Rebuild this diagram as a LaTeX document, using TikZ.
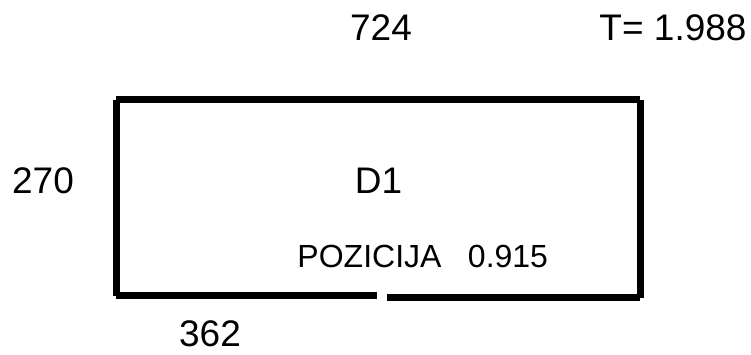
\documentclass[tikz,border=0pt]{standalone}
\usepackage{fontspec}
\setmainfont{Liberation Sans}
\begin{document}
\begin{tikzpicture}[x=1pt,y=-1pt,
  wall/.style={line width=7.3pt,line cap=butt,draw=black},
  big/.style={inner sep=0pt,font=\fontsize{37}{40}\selectfont},
  small/.style={inner sep=0pt,font=\fontsize{32}{35}\selectfont}]
\useasboundingbox (0,0) rectangle (751,354);
\coordinate (a1) at (116,99.7);
\coordinate (b1) at (640,99.7);
\coordinate (b2) at (640.3,100);
\coordinate (c2) at (640.3,297.7);
\coordinate (c3) at (640,297.8);
\coordinate (d) at (386.7,297.8);
\coordinate (e) at (376.7,295.7);
\coordinate (f1) at (116,295.7);
\coordinate (f2) at (116.3,295.7);
\coordinate (a2) at (116.3,100);
\draw[wall] (a1) -- (b1);
\draw[wall] (b2) -- (c2);
\draw[wall] (c3) -- (d);
\draw[wall] (e) -- (f1);
\draw[wall] (f2) -- (a2);
\node[big] (t1) at (381,27.5) {724};
\node[big] (t2) at (673,27.5) {T= 1.988};
\node[big] (t3) at (43,180.7) {270};
\node[big] (t4) at (378.5,180.7) {D1};
\node[small] (t5) at (369.5,256.5) {POZICIJA};
\node[small] (t6) at (508,256.5) {0.915};
\node[big] (t7) at (210,333.5) {362};
\end{tikzpicture}
\end{document}
